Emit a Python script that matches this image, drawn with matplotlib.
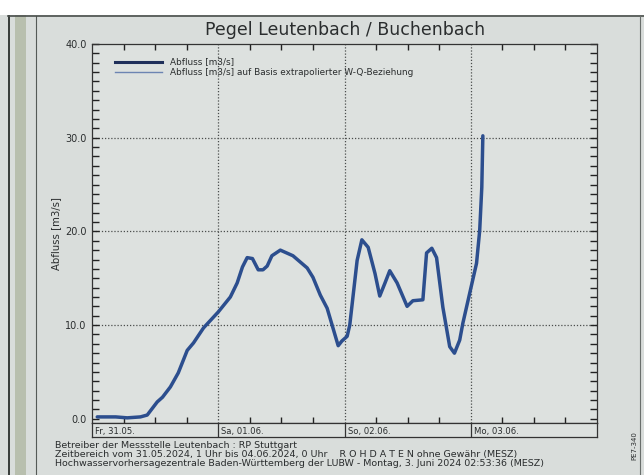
import matplotlib
matplotlib.use("Agg")
import matplotlib.pyplot as plt
from matplotlib.lines import Line2D
from matplotlib.patches import Rectangle
import numpy as np

# ---- data (hours since 31.05.2024 00:00, discharge m3/s) ----
hours = [1.0, 4.5, 6.7, 9.2, 10.5, 12.4, 13.4, 14.9, 16.4, 18.1, 19.3, 21.2,
         24.0, 26.3, 27.6, 28.6, 29.5, 30.5, 31.6, 32.5, 33.3, 34.2, 35.8,
         38.2, 40.9, 42.0, 43.4, 44.7, 46.8, 47.5, 48.5, 49.0, 50.4, 51.3,
         52.5, 53.8, 54.7, 55.7, 56.6, 58.0, 59.9, 61.0, 62.9, 63.6, 64.6,
         65.5, 66.7, 68.0, 68.9, 69.9, 70.5, 71.8, 73.1, 73.7, 74.1, 74.3]
discharge = [0.2, 0.2, 0.1, 0.2, 0.4, 1.8, 2.3, 3.4, 4.9, 7.3, 8.1, 9.7,
             11.4, 13.0, 14.5, 16.2, 17.2, 17.1, 15.9, 15.9, 16.3, 17.4, 18.0,
             17.4, 16.1, 15.1, 13.2, 11.8, 7.8, 8.3, 8.8, 10.0, 16.9, 19.1,
             18.3, 15.5, 13.1, 14.5, 15.8, 14.5, 12.0, 12.6, 12.7, 17.7, 18.2,
             17.2, 11.9, 7.7, 7.0, 8.4, 10.2, 13.4, 16.6, 20.1, 24.7, 30.2]

day_labels = ["Fr, 31.05.", "Sa, 01.06.", "So, 02.06.", "Mo, 03.06."]
ytick_vals = [0, 10, 20, 30, 40]
ytick_labels = ["0.0", "10.0", "20.0", "30.0", "40.0"]
legend_labels = ["Abfluss [m3/s]",
                 "Abfluss [m3/s] auf Basis extrapolierter W-Q-Beziehung"]
title = "Pegel Leutenbach / Buchenbach"
footer = ["Betreiber der Messstelle Leutenbach : RP Stuttgart",
          "Zeitbereich vom 31.05.2024, 1 Uhr bis 04.06.2024, 0 Uhr    R O H D A T E N ohne Gewähr (MESZ)",
          "Hochwasservorhersagezentrale Baden-Württemberg der LUBW - Montag, 3. Juni 2024 02:53:36 (MESZ)"]

W, H = 644, 475
BG = "#d9dddb"
LINE = "#2c4e8e"
TXT = "#2a2d2e"

plt.rcParams['font.family'] = ['DejaVu Sans']
fig = plt.figure(figsize=(W / 100, H / 100), dpi=100, facecolor=BG)

def fx(x):
    return x / W

def fy(y):
    return 1 - y / H

# ---- photo frame decorations ----
fig.add_artist(Rectangle((0, fy(15)), 1, 15 / H, transform=fig.transFigure,
                         facecolor="white", edgecolor="none", zorder=0))
fig.add_artist(Rectangle((fx(8), 0), 2 / W, fy(15), transform=fig.transFigure,
                         facecolor="#3a3f3c", edgecolor="none", zorder=0))
fig.add_artist(Rectangle((fx(15), 0), 11 / W, fy(15), transform=fig.transFigure,
                         facecolor="#b8bfae", edgecolor="none", zorder=0))
fig.add_artist(Line2D([fx(36), fx(36)], [0, fy(16)], transform=fig.transFigure,
                      color="#555a57", lw=0.8))
fig.add_artist(Line2D([fx(8), 1], [fy(16), fy(16)], transform=fig.transFigure,
                      color="#4a4f4c", lw=1.2))
fig.add_artist(Line2D([fx(640), fx(640)], [0, fy(16)], transform=fig.transFigure,
                      color="#6a6f6c", lw=0.8))

# ---- main axes ----
L, R, T, B = 92, 597, 44, 423
ax = fig.add_axes([fx(L), fy(B), (R - L) / W, (B - T) / H])
ax.set_facecolor("#dde1df")
ax.plot(hours, discharge, color=LINE, lw=2.5, solid_capstyle="round",
        solid_joinstyle="round", zorder=3)
ax.set_xlim(0, 96)
ax.set_ylim(-0.45, 40)

for d in (24, 48, 72):
    ax.axvline(d, color="#4a4d4c", lw=0.9, ls=(0, (1, 1.5)), zorder=1)
for v in (10, 20, 30):
    ax.axhline(v, color="#4a4d4c", lw=0.9, ls=(0, (1, 1.5)), zorder=1)

ax.set_xticks([h for h in range(6, 96, 6) if h % 24 != 0])
ax.set_xticklabels([])
ax.set_yticks(ytick_vals)
ax.set_yticklabels(ytick_labels, fontsize=7, color=TXT)
ax.set_yticks(np.arange(0, 41, 1), minor=True)
ax.tick_params(axis="x", direction="in", top=True, bottom=True, length=4.5,
               width=1.0, color="#222")
ax.tick_params(axis="y", which="both", direction="in", left=True, right=True,
               length=5, width=1.0, color="#222", pad=4)
for s in ax.spines.values():
    s.set_color("#333")
    s.set_linewidth(0.9)
ax.set_ylabel("Abfluss [m3/s]", fontsize=7.3, color=TXT, labelpad=3)

# legend drawn manually
ly1, ly2 = (B - 62) / (B - T), (B - 72) / (B - T)
lx0, lx1, lt = (115 - L) / (R - L), (162 - L) / (R - L), (170 - L) / (R - L)
ax.plot([lx0, lx1], [ly1, ly1], transform=ax.transAxes, color="#1f2f5a", lw=2.2)
ax.plot([lx0, lx1], [ly2, ly2], transform=ax.transAxes, color="#6c84b2", lw=1.0)
ax.text(lt, ly1, legend_labels[0], transform=ax.transAxes, fontsize=6.4,
        va="center", ha="left", color=TXT)
ax.text(lt, ly2, legend_labels[1], transform=ax.transAxes, fontsize=6.4,
        va="center", ha="left", color=TXT)

# ---- date strip ----
sb = 437
axd = fig.add_axes([fx(L), fy(sb), (R - L) / W, (sb - B) / H], sharex=ax)
axd.set_facecolor("#dde1df")
axd.set_ylim(0, 1)
axd.set_yticks([])
axd.tick_params(axis="x", bottom=False, labelbottom=False)
for s in axd.spines.values():
    s.set_color("#333")
    s.set_linewidth(0.9)
for d in (24, 48, 72):
    axd.axvline(d, color="#333", lw=0.9)
for i, lab in enumerate(day_labels):
    axd.text(i * 24 + 0.6, 0.42, lab, fontsize=6.1, ha="left", va="center",
             color=TXT)

# ---- title & footer ----
fig.text(fx(345), fy(30), title, fontsize=12.5, ha="center", va="center",
         color=TXT)
for i, line in enumerate(footer):
    fig.text(fx(55), fy(445 + i * 9.4), line, fontsize=6.8, ha="left",
             va="center", color=TXT)
fig.text(fx(634), fy(446), "PE7-340", fontsize=5, rotation=90, ha="center",
         va="center", color=TXT)

fig.savefig("out.png", dpi=100, facecolor=BG)
